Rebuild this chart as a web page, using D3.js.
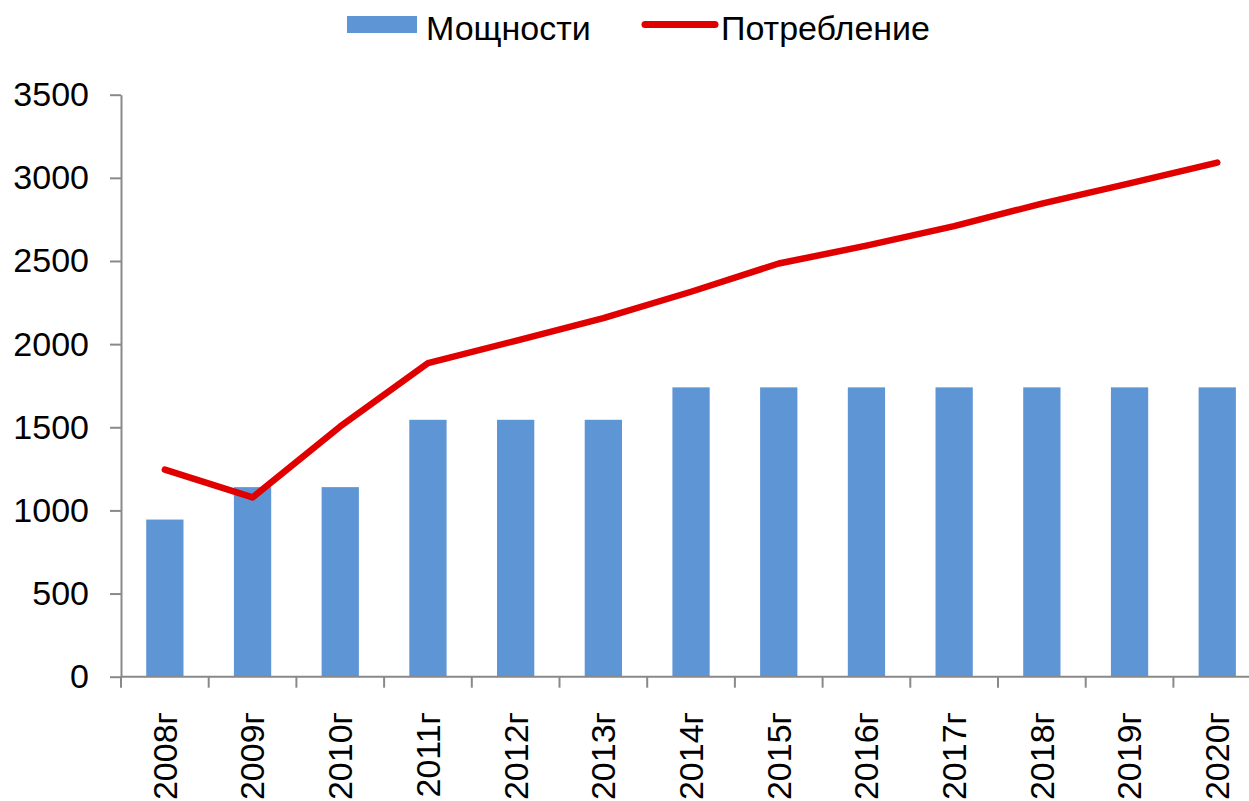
<!DOCTYPE html>
<html>
<head>
<meta charset="utf-8">
<script src="https://cdn.jsdelivr.net/npm/d3@7"></script>
<style>
  html, body { margin: 0; padding: 0; background: #fff; overflow: hidden; }
  svg { display: block; }
  text { font-family: "Liberation Sans", Arial, sans-serif; fill: #000; }
</style>
</head>
<body>
<script>
const categories = ["2008г","2009г","2010г","2011г","2012г","2013г","2014г","2015г","2016г","2017г","2018г","2019г","2020г"];
const capacity = [945, 1140, 1140, 1545, 1545, 1545, 1740, 1740, 1740, 1740, 1740, 1740, 1740];
const consumption = [1245, 1078, 1505, 1886, 2020, 2157, 2315, 2485, 2592, 2710, 2845, 2967, 3092];
const yTicks = [0, 500, 1000, 1500, 2000, 2500, 3000, 3500];
const seriesNames = ["Мощности", "Потребление"];

const W = 1249, H = 801;
const svg = d3.select("body").append("svg").attr("width", W).attr("height", H);

const x0 = 121, step = 87.7;
const x = d3.scaleBand().domain(categories)
  .range([x0, x0 + step * categories.length])
  .paddingInner(0.575).paddingOuter(0.2875);
const y = d3.scaleLinear().domain([0, 3500]).range([676.7, 94.7]);

const axisColor = "#898989";
const fs = 34;

// Bars
svg.append("g").selectAll("rect").data(categories).join("rect")
  .attr("x", d => x(d))
  .attr("y", (d, i) => y(capacity[i]))
  .attr("width", x.bandwidth())
  .attr("height", (d, i) => y(0) - y(capacity[i]))
  .attr("fill", "#5E95D4");

// Y axis
const yAxis = svg.append("g").attr("transform", `translate(${x0},0)`)
  .call(d3.axisLeft(y).tickValues(yTicks).tickFormat(d3.format("d")).tickSize(11).tickSizeOuter(0).tickPadding(21));
yAxis.select(".domain").attr("stroke", axisColor).attr("stroke-width", 2);
yAxis.selectAll(".tick line").attr("stroke", axisColor).attr("stroke-width", 2);
yAxis.selectAll(".tick text").style("font-size", fs + "px").attr("fill", "#000")
  .style("font-family", "'Liberation Sans', Arial, sans-serif");

// X axis (line)
const xAxis = svg.append("g").attr("transform", `translate(0,${y(0)})`)
  .call(d3.axisBottom(x).tickSize(0).tickSizeOuter(0).tickFormat(""));
xAxis.select(".domain").attr("d", `M${x0},0H${W + 20}`).attr("stroke", axisColor).attr("stroke-width", 2);
xAxis.selectAll(".tick").remove();

// Boundary ticks
const gap = (x.step() - x.bandwidth()) / 2;
const bounds = categories.map(c => x(c) - gap);
bounds.push(x(categories[categories.length - 1]) + x.bandwidth() + gap);
svg.append("g").selectAll("line").data(bounds).join("line")
  .attr("x1", d => d).attr("x2", d => d)
  .attr("y1", y(0)).attr("y2", y(0) + 11)
  .attr("stroke", axisColor).attr("stroke-width", 2);

// X labels rotated
svg.append("g").selectAll("text").data(categories).join("text")
  .attr("transform", d => `translate(${x(d) + x.bandwidth() / 2},712) rotate(-90)`)
  .attr("text-anchor", "end")
  .attr("dy", "0.35em")
  .style("font-size", fs + "px")
  .text(d => d);

// Line
const line = d3.line()
  .x((d, i) => x(categories[i]) + x.bandwidth() / 2)
  .y(d => y(d));
svg.append("path").datum(consumption)
  .attr("d", line)
  .attr("fill", "none")
  .attr("stroke", "#E00000")
  .attr("stroke-width", 6.5)
  .attr("stroke-linejoin", "round")
  .attr("stroke-linecap", "round");

// Legend
const lg = svg.append("g");
lg.append("rect").attr("x", 347).attr("y", 16).attr("width", 70).attr("height", 17).attr("fill", "#5E95D4");
lg.append("text").attr("x", 426).attr("y", 40).style("font-size", fs + "px").text(seriesNames[0]);
lg.append("line").attr("x1", 645).attr("x2", 715).attr("y1", 24.5).attr("y2", 24.5)
  .attr("stroke", "#E00000").attr("stroke-width", 7).attr("stroke-linecap", "round");
lg.append("text").attr("x", 721).attr("y", 40).style("font-size", fs + "px").text(seriesNames[1]);
</script>
</body>
</html>
